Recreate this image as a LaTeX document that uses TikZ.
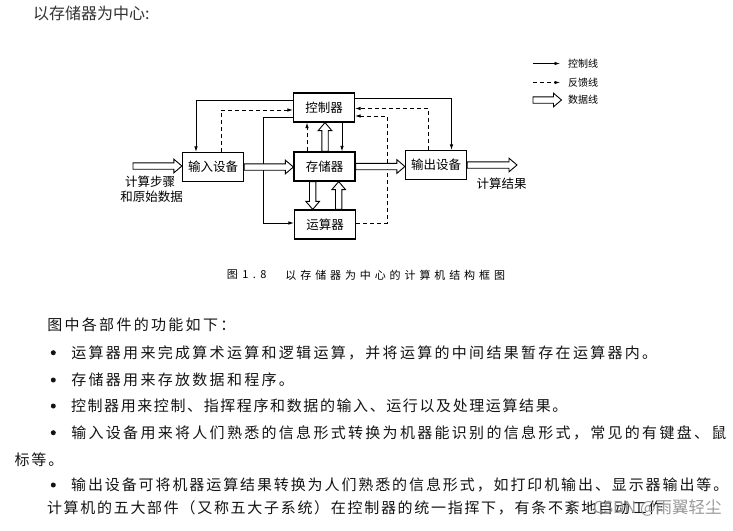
\documentclass[tikz,border=0pt]{standalone}
\usepackage{fontspec}
\setmainfont{Noto Sans CJK SC}
\newfontfamily\cjk{Noto Sans CJK SC}
\usetikzlibrary{arrows.meta,calc}
\makeatletter
\newcommand\pitchtext[2]{\def\pt@w{#1}\pt@loop#2\pt@end}
\def\pt@loop#1{\ifx#1\pt@end\else\makebox[\pt@w][c]{#1}\expandafter\pt@loop\fi}
\makeatother
\newcommand\rarr[2]{\path[datal] let \p1=(#1), \p2=(#2) in
 (\x1,\y1+3.2pt) -- (\x2-8pt,\y1+3.2pt) -- (\x2-8pt,\y1+6.8pt) -- (\x2,\y1) -- (\x2-8pt,\y1-6.8pt) -- (\x2-8pt,\y1-3.2pt) -- (\x1,\y1-3.2pt) -- cycle;}
\newcommand\uarr[2]{\path[datal] let \p1=(#1), \p2=(#2) in
 (\x1-3.2pt,\y1) -- (\x1-3.2pt,\y2-8pt) -- (\x1-6.8pt,\y2-8pt) -- (\x1,\y2) -- (\x1+6.8pt,\y2-8pt) -- (\x1+3.2pt,\y2-8pt) -- (\x1+3.2pt,\y1) -- cycle;}
\newcommand\darr[2]{\path[datal] let \p1=(#1), \p2=(#2) in
 (\x1-3.2pt,\y1) -- (\x1-3.2pt,\y2+8pt) -- (\x1-6.8pt,\y2+8pt) -- (\x1,\y2) -- (\x1+6.8pt,\y2+8pt) -- (\x1+3.2pt,\y2+8pt) -- (\x1+3.2pt,\y1) -- cycle;}
\begin{document}
\begin{tikzpicture}[x=1pt,y=-1pt,
  box/.style={draw, line width=1.2pt, minimum width=61pt, minimum height=29pt, inner sep=0pt, font=\cjk\fontsize{12.5}{12.5}\selectfont},
  ctl/.style={draw, line width=0.8pt, -{Latex[length=5.5pt,width=3.5pt]}},
  fb/.style={ctl, dash pattern=on 4pt off 3pt},
  datal/.style={draw, line width=0.9pt, fill=white, line join=miter},
  lbl/.style={inner sep=0pt, font=\cjk\fontsize{12.5}{12.5}\selectfont},
  leg/.style={anchor=west, inner sep=0pt, font=\cjk\fontsize{10}{10}\selectfont},
  body/.style={anchor=west, inner sep=0pt, text=black!92, font=\cjk\fontsize{15}{15}\selectfont},
  captext/.style={anchor=west, inner sep=0pt, font=\cjk\fontsize{11}{11}\selectfont},
  bullet/.style={circle, fill=black!92, inner sep=0pt, minimum size=5pt},
]
\useasboundingbox (0,0) rectangle (733,530);
\fill[white] (0,0) rectangle (733,530);

% title
\node[anchor=west, inner sep=0pt, text=black!80, font=\cjk\fontsize{16}{16}\selectfont] (title) at (33,13) {以存储器为中心:};

% boxes
\node[box] (ctrl) at (324,107.5) {控制器};
\node[box] (mem)  at (324.5,166.5) {存储器};
\node[box] (alu)  at (325,224.5) {运算器};
\node[box] (in)   at (213,167) {输入设备};
\node[box] (out)  at (436,165) {输出设备};

\coordinate (src) at (133,166);
\coordinate (res) at (517,165);
\coordinate (c3) at (263,223);
\coordinate (f4) at (387,116);

% control lines
\draw[ctl] ([yshift=7.5pt]ctrl.west) -| ([xshift=-17pt]in.north);
\draw[ctl] ([yshift=9pt]ctrl.east) -| ([xshift=15.5pt]out.north);
\draw[ctl] ([yshift=-9.5pt]ctrl.west) -| (c3) -- ([yshift=1.5pt]alu.west);
\draw[ctl] ([xshift=18pt]ctrl.south) -- ([xshift=17.5pt]mem.north);

% feedback lines
\draw[fb] ([xshift=8pt]in.north) |- ([yshift=-2.5pt]ctrl.west);
\draw[fb] ([xshift=-17.5pt]mem.north) -- ([xshift=-17pt]ctrl.south);
\draw[fb] ([xshift=-7.5pt]out.north) |- ([yshift=-1pt]ctrl.east);
\draw[fb] ([yshift=1.5pt]alu.east) -| (f4) -- ([yshift=-8.5pt]ctrl.east);

% data lines
\rarr{src}{in.west}
\rarr{in.east}{mem.west}
\rarr{mem.east}{out.west}
\rarr{out.east}{res}
\uarr{[xshift=0.5pt]mem.north}{ctrl.south}
\darr{[xshift=-11.8pt]mem.south}{alu.north}
\uarr{[xshift=13.7pt]alu.north}{mem.south}

% labels
\node[lbl] (lin1) at (150,181.7) {计算步骤};
\node[lbl] (lin2) at (151.7,196.7) {和原始数据};
\node[lbl] (lres) at (501.5,183.3) {计算结果};

% legend
\coordinate (l1a) at (533,63.5); \coordinate (l1b) at (560,63.5);
\coordinate (l2a) at (533,82.5); \coordinate (l2b) at (560,82.5);
\coordinate (l3a) at (533,100);  \coordinate (l3b) at (561.5,100);
\draw[ctl] (l1a) -- (l1b);
\draw[fb] (l2a) -- (l2b);
\rarr{l3a}{l3b}
\node[leg] (t1) at (568,63.5) {控制线};
\node[leg] (t2) at (568,82.5) {反馈线};
\node[leg] (t3) at (568,100) {数据线};

% caption
\node[captext] (cap1) at (226.7,275) {\makebox[14pt][l]{图}\pitchtext{9pt}{1.8}};
\node[captext] (cap2) at (283.3,275) {\pitchtext{14.9pt}{以存储器为中心的计算机结构框图}};

% body text
\node[body] (h0) at (46,325) {\pitchtext{17.3pt}{图中各部件的功能如下：}};
\node[bullet] (b1) at (53.3,352.7) {};
\node[body] (r1) at (70,352.7) {\pitchtext{17.3pt}{运算器用来完成算术运算和逻辑运算，并将运算的中间结果暂存在运算器内。}};
\node[bullet] (b2) at (53.3,380) {};
\node[body] (r2) at (70,380) {\pitchtext{17.3pt}{存储器用来存放数据和程序。}};
\node[bullet] (b3) at (53.3,406) {};
\node[body] (r3) at (70,406) {\pitchtext{16.6pt}{控制器用来控制、指挥程序和数据的输入、运行以及处理运算结果。}};
\node[bullet] (b4) at (53.3,432.7) {};
\node[body] (r4) at (70,432.7) {\pitchtext{17.3pt}{输入设备用来将人们熟悉的信息形式转换为机器能识别的信息形式，常见的有键盘、鼠}};
\node[body] (r4b) at (13.3,460) {\pitchtext{17pt}{标等。}};
\node[bullet] (b5) at (53.3,485) {};
\node[body] (r5) at (70,485) {\pitchtext{16.9pt}{输出设备可将机器运算结果转换为人们熟悉的信息形式，如打印机输出、显示器输出等。}};
\node[body] (r6) at (46,508.3) {\pitchtext{16.7pt}{计算机的五大部件（又称五大子系统）在控制器的统一指挥下，有条不紊地自动工作}};

% watermark
\node[anchor=west, inner sep=0pt, text=black!40, font=\cjk\fontsize{16.5}{16.5}\selectfont] (wm) at (593,508) {CSDN @雨翼轻尘};
\end{tikzpicture}
\end{document}
